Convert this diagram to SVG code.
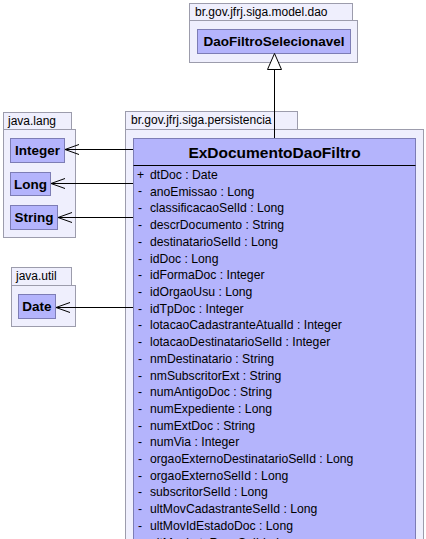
<svg xmlns="http://www.w3.org/2000/svg" width="426" height="539" viewBox="0 0 426 539">
<style>
.pkg{fill:#efeffd;stroke:#9c9cac;stroke-width:1}
.cls{fill:#b4b4fc;stroke:#7d7db5;stroke-width:1}
.pt{font-family:"Liberation Sans",Arial,sans-serif;font-size:12px;fill:#000}
.cn{font-family:"Liberation Sans",Arial,sans-serif;font-size:13.5px;font-weight:bold;fill:#000}
.big{font-family:"Liberation Sans",Arial,sans-serif;font-size:15.5px;font-weight:bold;fill:#000;text-anchor:middle}
.at{font-family:"Liberation Sans",Arial,sans-serif;font-size:12.2px;fill:#000}
.ln{stroke:#000;stroke-width:1;fill:none}
</style>
<rect width="426" height="539" fill="#ffffff"/>
<g id="pkg-model-dao">
<rect class="pkg" x="189.5" y="3.5" width="163" height="17"/>
<rect class="pkg" x="189.5" y="20.5" width="168" height="42"/>
<text class="pt" x="195" y="16">br.gov.jfrj.siga.model.dao</text>
</g>
<g id="DaoFiltroSelecionavel">
<rect class="cls" x="197.5" y="29.5" width="153" height="24"/>
<text class="cn" x="274" y="46" text-anchor="middle">DaoFiltroSelecionavel</text>
</g>
<g id="pkg-java-lang">
<rect class="pkg" x="3.5" y="112.5" width="68" height="17"/>
<rect class="pkg" x="3.5" y="129.5" width="72" height="108"/>
<text class="pt" x="8" y="125">java.lang</text>
</g>
<g id="Integer">
<rect class="cls" x="10.5" y="138.5" width="54" height="24"/>
<text class="cn" x="37.5" y="155" text-anchor="middle">Integer</text>
</g>
<g id="Long">
<rect class="cls" x="10.5" y="172.5" width="40" height="23"/>
<text class="cn" x="30.5" y="189" text-anchor="middle">Long</text>
</g>
<g id="String">
<rect class="cls" x="10.5" y="205.5" width="47" height="24"/>
<text class="cn" x="34" y="222" text-anchor="middle">String</text>
</g>
<g id="pkg-java-util">
<rect class="pkg" x="11.5" y="267.5" width="60" height="18"/>
<rect class="pkg" x="11.5" y="285.5" width="64" height="41"/>
<text class="pt" x="16" y="280">java.util</text>
</g>
<g id="Date">
<rect class="cls" x="18.5" y="294.5" width="37" height="24"/>
<text class="cn" x="37" y="311" text-anchor="middle">Date</text>
</g>
<g id="pkg-persistencia">
<rect class="pkg" x="125.5" y="111.5" width="172" height="18"/>
<rect class="pkg" x="125.5" y="129.5" width="298" height="420"/>
<text class="pt" x="131" y="124">br.gov.jfrj.siga.persistencia</text>
</g>
<g id="ExDocumentoDaoFiltro">
<rect class="cls" x="133.5" y="138.5" width="282" height="410"/>
<text class="big" x="274.5" y="158">ExDocumentoDaoFiltro</text>
<line class="ln" x1="133.5" y1="165.5" x2="415.5" y2="165.5"/>
<g class="at">
<text x="137" y="179">+</text><text x="150" y="179">dtDoc : Date</text>
<text x="138" y="195">-</text><text x="150" y="195.7">anoEmissao : Long</text>
<text x="138" y="212.4">-</text><text x="150" y="212.4">classificacaoSelId : Long</text>
<text x="138" y="229.1">-</text><text x="150" y="229.1">descrDocumento : String</text>
<text x="138" y="245.8">-</text><text x="150" y="245.8">destinatarioSelId : Long</text>
<text x="138" y="262.5">-</text><text x="150" y="262.5">idDoc : Long</text>
<text x="138" y="279.3">-</text><text x="150" y="279.3">idFormaDoc : Integer</text>
<text x="138" y="296">-</text><text x="150" y="296">idOrgaoUsu : Long</text>
<text x="138" y="312.7">-</text><text x="150" y="312.7">idTpDoc : Integer</text>
<text x="138" y="329.4">-</text><text x="150" y="329.4">lotacaoCadastranteAtualId : Integer</text>
<text x="138" y="346.1">-</text><text x="150" y="346.1">lotacaoDestinatarioSelId : Integer</text>
<text x="138" y="362.8">-</text><text x="150" y="362.8">nmDestinatario : String</text>
<text x="138" y="379.5">-</text><text x="150" y="379.5">nmSubscritorExt : String</text>
<text x="138" y="396.2">-</text><text x="150" y="396.2">numAntigoDoc : String</text>
<text x="138" y="412.9">-</text><text x="150" y="412.9">numExpediente : Long</text>
<text x="138" y="429.6">-</text><text x="150" y="429.6">numExtDoc : String</text>
<text x="138" y="446.3">-</text><text x="150" y="446.3">numVia : Integer</text>
<text x="138" y="463">-</text><text x="150" y="463">orgaoExternoDestinatarioSelId : Long</text>
<text x="138" y="479.7">-</text><text x="150" y="479.7">orgaoExternoSelId : Long</text>
<text x="138" y="496.4">-</text><text x="150" y="496.4">subscritorSelId : Long</text>
<text x="138" y="513.1">-</text><text x="150" y="513.1">ultMovCadastranteSelId : Long</text>
<text x="138" y="529.8">-</text><text x="150" y="529.8">ultMovIdEstadoDoc : Long</text>
<text x="138" y="546.5">-</text><text x="150" y="546.5">ultMovLotaRespSelId : Long</text>
</g>
</g>
<g id="connectors">
<line class="ln" x1="274.5" y1="69" x2="274.5" y2="138"/>
<polygon points="274.5,53.5 267.5,69.5 281.5,69.5" fill="#ffffff" stroke="#000" stroke-width="1"/>
<line class="ln" x1="133" y1="149.5" x2="65" y2="149.5"/>
<polyline class="ln" points="79,144.5 65,149.5 79,154.5"/>
<line class="ln" x1="133" y1="183.5" x2="51" y2="183.5"/>
<polyline class="ln" points="65,178.5 51,183.5 65,188.5"/>
<line class="ln" x1="133" y1="217.5" x2="58" y2="217.5"/>
<polyline class="ln" points="72,212.5 58,217.5 72,222.5"/>
<line class="ln" x1="133" y1="307.5" x2="56" y2="307.5"/>
<polyline class="ln" points="70,302.5 56,307.5 70,312.5"/>
</g>
</svg>
